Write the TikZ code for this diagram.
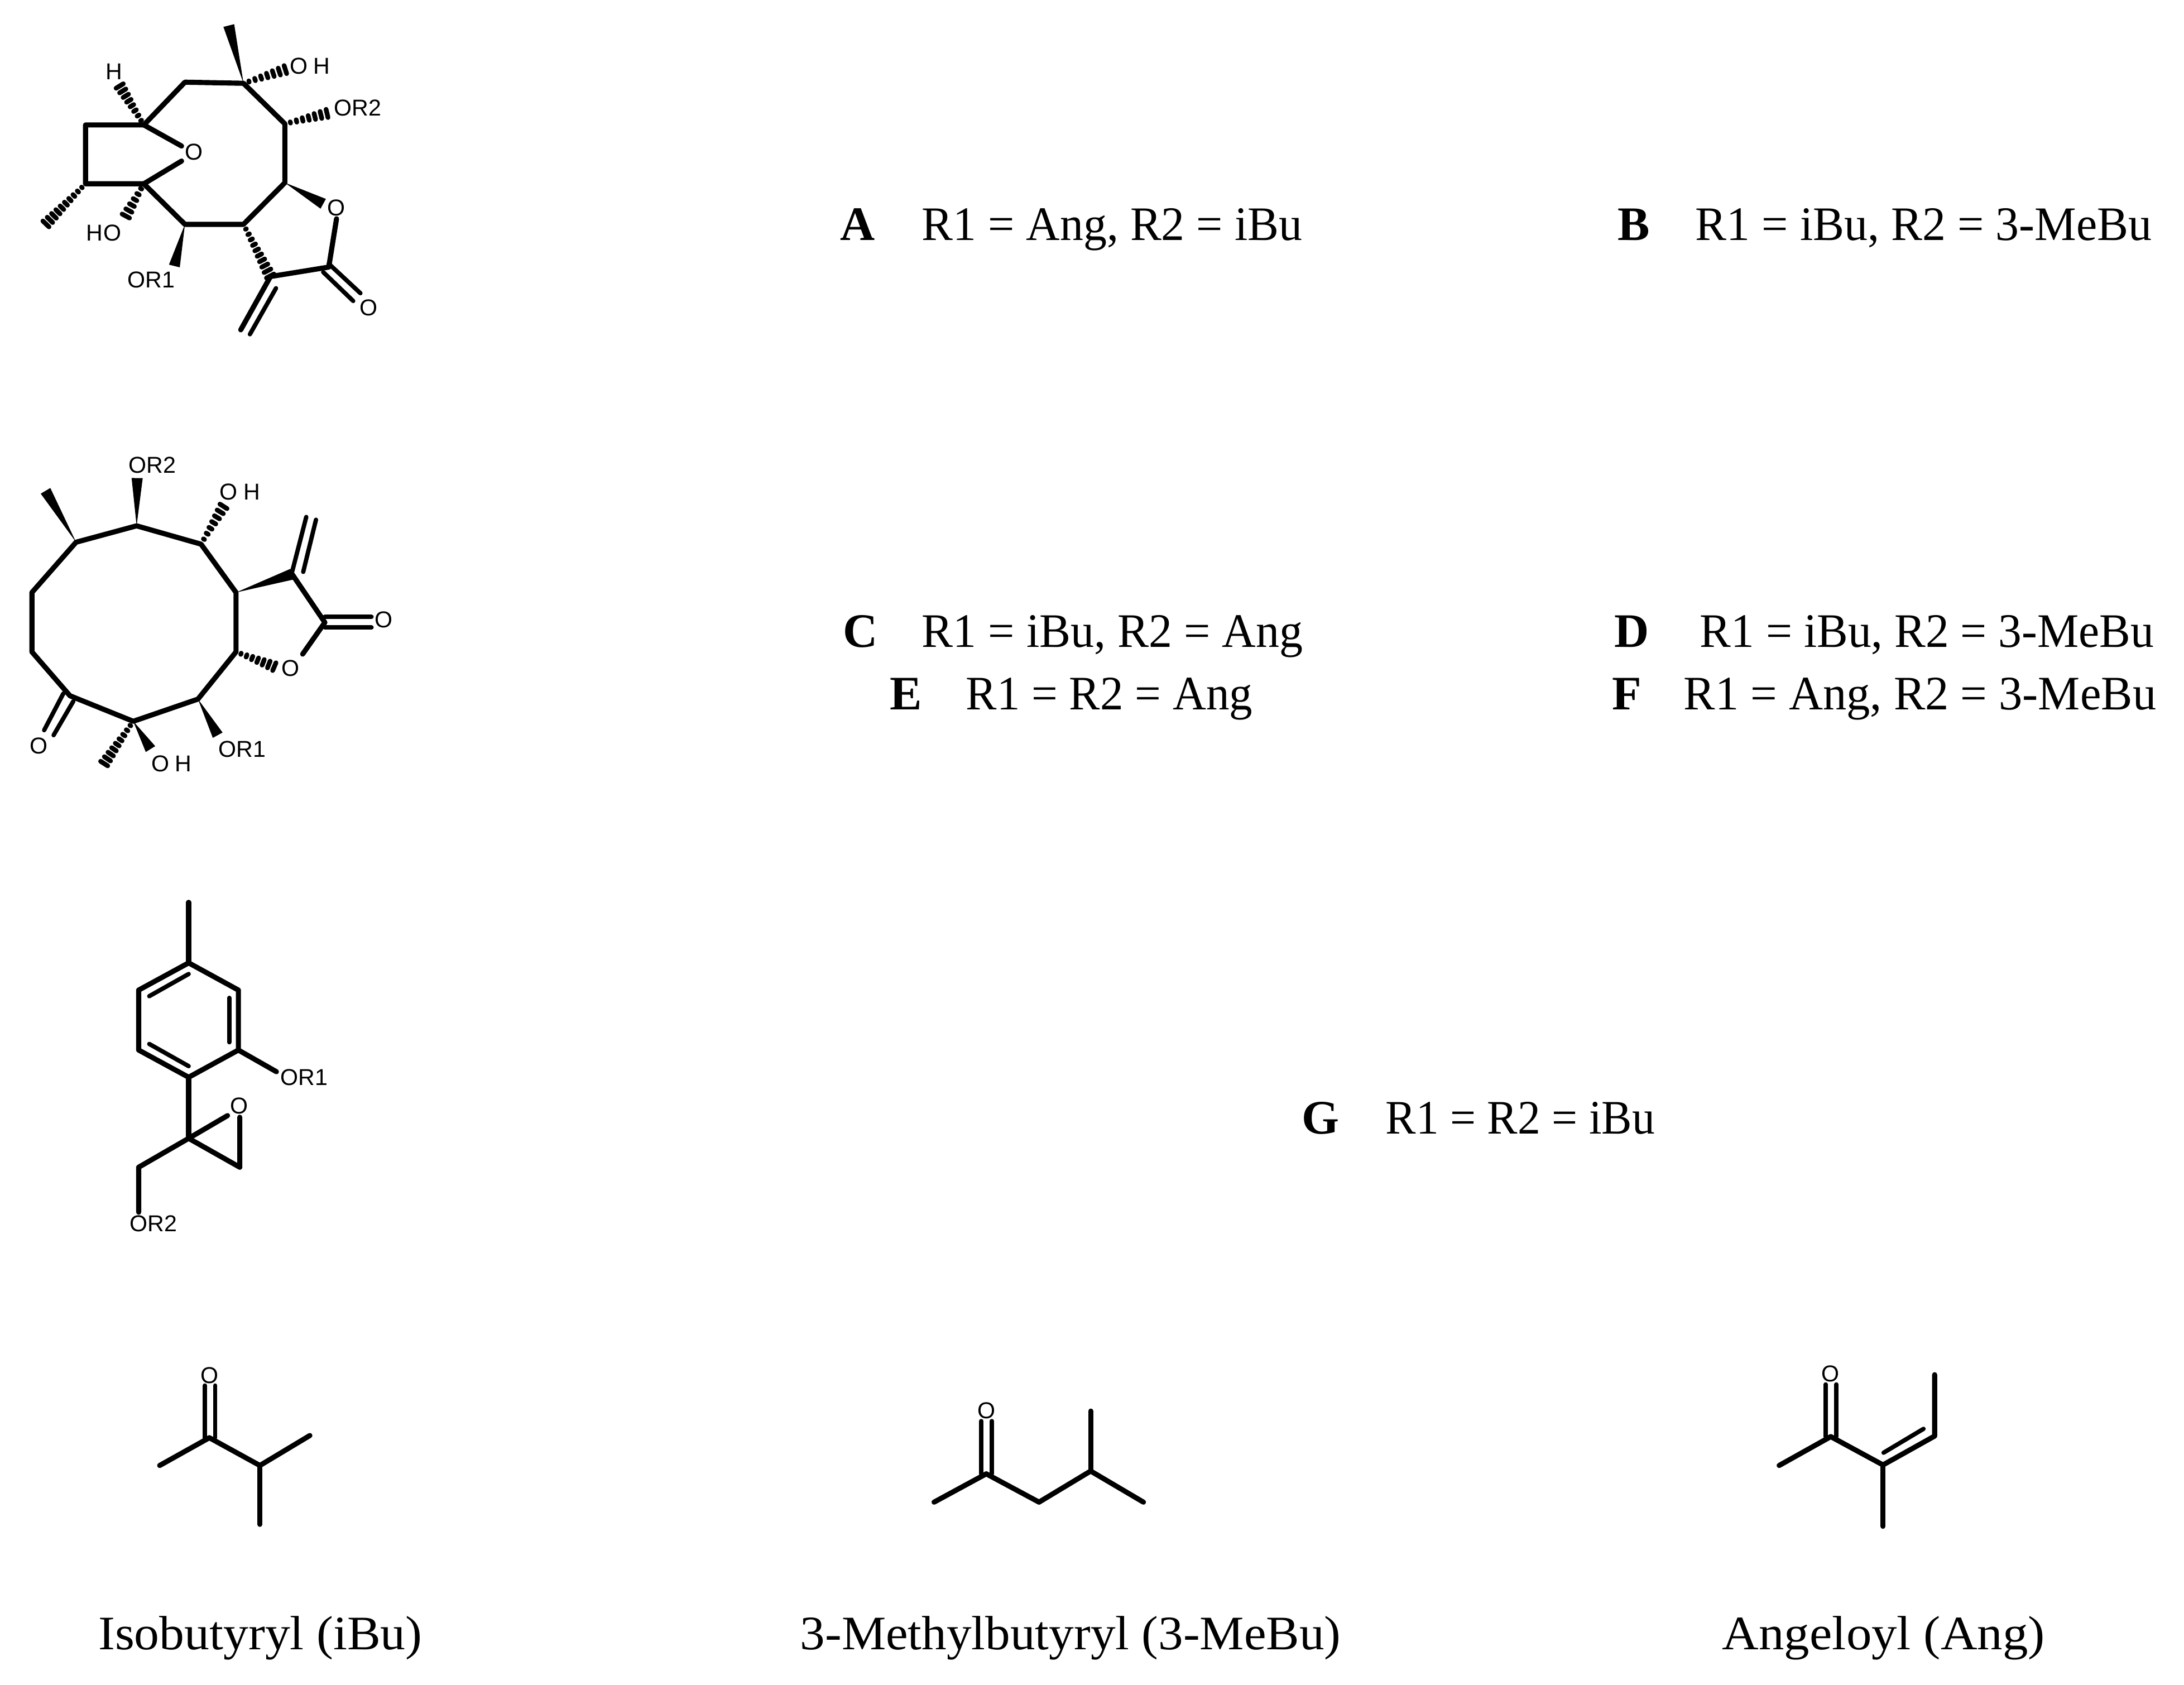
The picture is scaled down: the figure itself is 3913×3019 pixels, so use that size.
\documentclass[tikz,border=0pt]{standalone}
\usepackage{fontspec}
\usepackage{graphicx}
\usetikzlibrary{calc}
\setmainfont{Liberation Serif}
\newfontfamily\labelfont{Liberation Sans}
\newcommand\fitw[2]{\resizebox{#1}{\height}{#2}}
\newcommand\wedgebond[2]{\fill[black] (#1) -- ($(#2)!0.1cm!90:(#1)$) -- ($(#2)!0.1cm!-90:(#1)$) -- cycle;}
\newcommand\hashbond[3]{%
  \foreach \i in {1,...,#3}{%
    \pgfmathsetmacro\hasht{(\i-0.1)/#3}%
    \pgfmathsetmacro\hashw{0.075*\hasht+0.002}%
    \coordinate (hp) at ($(#1)!\hasht!(#2)$);
    \draw[hashline] ($(hp)!\hashw cm!90:(#2)$) -- ($(hp)!\hashw cm!-90:(#2)$);
  }}
\tikzset{
  bond/.style={line width=2.6pt,line cap=round,line join=round,black},
  thinbond/.style={line width=2.2pt,line cap=round,line join=round,black},
  hashline/.style={line width=2.4pt,line cap=round,black},
  atomlabel/.style={font=\labelfont\fontsize{11.7pt}{12pt}\selectfont,inner sep=0pt,black},
  capt/.style={font=\fontsize{24.5pt}{26pt}\selectfont,inner sep=0pt,anchor=base west,black},
  lett/.style={font=\fontsize{24.5pt}{26pt}\selectfont\bfseries,inner sep=0pt,anchor=base west,black}
}
\begin{document}
\begin{tikzpicture}[x=0.01cm,y=-0.01cm]
\useasboundingbox (0,0) rectangle (3913,3019);
%% ---------- structure 1
\begin{scope}[scale=.995]
\coordinate (a) at (438.5,150); \coordinate (b) at (333,148); \coordinate (c) at (259,225);
\coordinate (d) at (154,225); \coordinate (e) at (154,331); \coordinate (f) at (259,331);
\coordinate (g) at (333,404); \coordinate (h) at (438.5,404); \coordinate (i) at (513,329);
\coordinate (j) at (513,223); \coordinate (k) at (592,481); \coordinate (l) at (487,498);
\coordinate (oc) at (327,263); \coordinate (of) at (327,290); \coordinate (ok) at (606,394);
\coordinate (ame) at (412,46); \coordinate (aoh) at (515,125); \coordinate (jor) at (590,204);
\coordinate (ch) at (215,154); \coordinate (eme) at (82,404); \coordinate (foh) at (226,390);
\coordinate (gor) at (314,479); \coordinate (io) at (582,367);
\coordinate (l1) at (433.5,594); \coordinate (l2a) at (497,519); \coordinate (l2b) at (450,602);
\coordinate (k1a) at (592,475); \coordinate (k1b) at (649,528); \coordinate (k2a) at (582,490); \coordinate (k2b) at (636,542);
\draw[bond] (f) -- (g) -- (h) -- (i) -- (j) -- (a) -- (b) -- (c) -- (d) -- (e) -- (f);
\draw[bond] (c) -- (oc); \draw[bond] (f) -- (of);
\draw[bond] (ok) -- (k) -- (l);
\draw[bond] (l) -- (l1); \draw[thinbond] (l2a) -- (l2b);
\draw[thinbond] (k1a) -- (k1b); \draw[thinbond] (k2a) -- (k2b);
\wedgebond{a}{ame} \wedgebond{g}{gor} \wedgebond{i}{io}
\hashbond{a}{aoh}{7} \hashbond{j}{jor}{7} \hashbond{c}{ch}{8} \hashbond{e}{eme}{10}
\hashbond{f}{foh}{6} \hashbond{h}{l}{10}
\node[atomlabel] (n1o) at (349,274) {O};
\node[atomlabel] (n1oh) at (558,119) {O\kern3pt H};
\node[atomlabel] (n1or2) at (644,194) {OR2};
\node[atomlabel] (n1h) at (205,129) {H};
\node[atomlabel] (n1ho) at (187,419) {H\kern.6pt O};
\node[atomlabel] (n1or1) at (272,504) {OR1};
\node[atomlabel] (n1ol) at (606,374) {O};
\node[atomlabel] (n1oc) at (664,554) {O};
\end{scope}
%% ---------- structure 2
\begin{scope}[scale=.995,shift={(0,3.9)}]
\coordinate (A) at (137,972.5); \coordinate (B) at (246,943); \coordinate (C) at (362,976);
\coordinate (D) at (425,1063); \coordinate (E) at (425,1170); \coordinate (F) at (356.5,1255);
\coordinate (G) at (240,1295); \coordinate (H) at (126,1249); \coordinate (I) at (57.5,1170);
\coordinate (J) at (57.5,1063); \coordinate (L) at (526,1030); \coordinate (M) at (585,1117);
\coordinate (Bt) at (247,857); \coordinate (At) at (82,880); \coordinate (Ct) at (403,907);
\coordinate (L1a) at (526,1026); \coordinate (L1b) at (551.5,927); \coordinate (L2a) at (546,1026); \coordinate (L2b) at (569,932);
\coordinate (M1a) at (585,1107); \coordinate (M1b) at (669,1107); \coordinate (M2a) at (585,1126); \coordinate (M2b) at (669,1126);
\coordinate (MO) at (545,1174); \coordinate (Et) at (495,1197); \coordinate (Ft) at (392,1320);
\coordinate (Gw) at (271,1345); \coordinate (Gh) at (187,1372);
\coordinate (H1a) at (114,1245); \coordinate (H1b) at (79.5,1311); \coordinate (H2a) at (132,1259); \coordinate (H2b) at (96.5,1320);
\draw[bond] (C) -- (D) -- (E) -- (F) -- (G) -- (H) -- (I) -- (J) -- (A) -- (B) -- (C);
\draw[bond] (L) -- (M) -- (MO);
\draw[thinbond] (L1a) -- (L1b); \draw[thinbond] (L2a) -- (L2b);
\draw[thinbond] (M1a) -- (M1b); \draw[thinbond] (M2a) -- (M2b);
\draw[thinbond] (H1a) -- (H1b); \draw[thinbond] (H2a) -- (H2b);
\wedgebond{A}{At} \wedgebond{B}{Bt} \wedgebond{D}{L} \wedgebond{F}{Ft} \wedgebond{G}{Gw}
\hashbond{C}{Ct}{7} \hashbond{E}{Et}{7} \hashbond{G}{Gh}{9}
\node[atomlabel] (n2or2) at (274,834) {OR2};
\node[atomlabel] (n2oh) at (432,882) {O\kern3pt H};
\node[atomlabel] (n2co) at (691,1112) {O};
\node[atomlabel] (n2lo) at (523,1199) {O};
\node[atomlabel] (n2or1) at (436,1345) {OR1};
\node[atomlabel] (n2oh2) at (309,1371) {O\kern3pt H};
\node[atomlabel] (n2ko) at (70,1339) {O};
\end{scope}
%% ---------- structure 3
\begin{scope}[scale=.995,shift={(.75,7.9)}]
\coordinate (me) at (339,1617); \coordinate (p1) at (339,1726); \coordinate (p2) at (428.5,1775);
\coordinate (p3) at (428.5,1883); \coordinate (p4) at (339,1932); \coordinate (p5) at (249,1883);
\coordinate (p6) at (249,1775);
\coordinate (in1a) at (268,1786); \coordinate (in1b) at (339,1746);
\coordinate (in2a) at (412,1789); \coordinate (in2b) at (412,1869);
\coordinate (in3a) at (268,1872); \coordinate (in3b) at (339,1912);
\coordinate (orb) at (497,1922); \coordinate (q) at (339,2042); \coordinate (qo) at (409,2001);
\coordinate (ro) at (431,2004); \coordinate (r) at (431,2094); \coordinate (s) at (249,2094); \coordinate (sb) at (249,2175);
\draw[bond] (p1) -- (p2) -- (p3) -- (p4) -- (p5) -- (p6) -- cycle;
\draw[bond] (me) -- (p1);
\draw[thinbond] (in1a) -- (in1b); \draw[thinbond] (in2a) -- (in2b); \draw[thinbond] (in3a) -- (in3b);
\draw[bond] (p3) -- (orb); \draw[bond] (p4) -- (q); \draw[bond] (q) -- (qo);
\draw[bond] (ro) -- (r) -- (q) -- (s) -- (sb);
\node[atomlabel] (n3or1) at (547,1932) {OR1};
\node[atomlabel] (n3o) at (430,1983) {O};
\node[atomlabel] (n3or2) at (275.5,2195) {OR2};
\end{scope}
%% ---------- isobutyryl
\begin{scope}[scale=.995,shift={(1,12)}]
\coordinate (ib1) at (286.5,2627); \coordinate (ib2) at (376,2577); \coordinate (ib3) at (467,2627);
\coordinate (ib4) at (557,2573); \coordinate (ib5) at (467,2733);
\coordinate (ibda) at (368,2577); \coordinate (ibdb) at (368,2483); \coordinate (ibea) at (386.5,2577); \coordinate (ibeb) at (386.5,2483);
\draw[bond] (ib1) -- (ib2) -- (ib3) -- (ib4); \draw[bond] (ib3) -- (ib5);
\draw[thinbond] (ibda) -- (ibdb); \draw[thinbond] (ibea) -- (ibeb);
\node[atomlabel] (nibo) at (376,2465) {O};
\end{scope}
%% ---------- 3-methylbutyryl
\begin{scope}[scale=.995,shift={(8,12)}]
\coordinate (mb1) at (1674,2693); \coordinate (mb2) at (1768,2642); \coordinate (mb3) at (1863,2693);
\coordinate (mb4) at (1956,2637); \coordinate (mb5) at (1956,2529); \coordinate (mb6) at (2051,2693);
\coordinate (mbda) at (1759,2642); \coordinate (mbdb) at (1759,2547); \coordinate (mbea) at (1778,2642); \coordinate (mbeb) at (1778,2547);
\draw[bond] (mb1) -- (mb2) -- (mb3) -- (mb4) -- (mb6); \draw[bond] (mb4) -- (mb5);
\draw[thinbond] (mbda) -- (mbdb); \draw[thinbond] (mbea) -- (mbeb);
\node[atomlabel] (nmbo) at (1768,2528) {O};
\end{scope}
%% ---------- angeloyl
\begin{scope}[scale=.995,shift={(14.75,12)}]
\coordinate (an1) at (3189,2627); \coordinate (an2) at (3282,2575); \coordinate (an3) at (3376,2626);
\coordinate (an4) at (3376,2736.5); \coordinate (an5) at (3469,2574); \coordinate (an6) at (3469,2463.5);
\coordinate (anda) at (3273,2575); \coordinate (andb) at (3273,2481); \coordinate (anea) at (3292,2575); \coordinate (aneb) at (3292,2481);
\coordinate (anfa) at (3377,2604); \coordinate (anfb) at (3449,2561);
\draw[bond] (an1) -- (an2) -- (an3) -- (an5) -- (an6); \draw[bond] (an3) -- (an4);
\draw[thinbond] (anda) -- (andb); \draw[thinbond] (anea) -- (aneb); \draw[thinbond] (anfa) -- (anfb);
\node[atomlabel] (nano) at (3281,2461.5) {O};
\end{scope}
%% ---------- compound list
\node[lett] (la) at (1505,431) {A};
\node[capt] (ta) at (1651,431) {\fitw{6.81cm}{R1 = Ang, R2 = iBu}};
\node[lett] (lb) at (2898,431) {B};
\node[capt] (tb) at (3037,431) {\fitw{8.17cm}{R1 = iBu, R2 = 3-MeBu}};
\node[lett] (lc) at (1510,1159) {C};
\node[capt] (tc) at (1651,1159) {\fitw{6.82cm}{R1 = iBu, R2 = Ang}};
\node[lett] (ld) at (2892,1159) {D};
\node[capt] (td) at (3045,1159) {\fitw{8.13cm}{R1 = iBu, R2 = 3-MeBu}};
\node[lett] (le) at (1594,1271) {E};
\node[capt] (te) at (1730,1271) {\fitw{5.13cm}{R1 = R2 = Ang}};
\node[lett] (lf) at (2888,1271) {F};
\node[capt] (tf) at (3016,1271) {\fitw{8.46cm}{R1 = Ang, R2 = 3-MeBu}};
\node[lett] (lg) at (2332,2031) {G};
\node[capt] (tg) at (2482,2031) {\fitw{4.82cm}{R1 = R2 = iBu}};
%% ---------- captions
\node[capt] (cib) at (175.5,2955) {\fitw{5.80cm}{Isobutyryl (iBu)}};
\node[capt] (cmb) at (1433,2955) {\fitw{9.68cm}{3-Methylbutyryl (3-MeBu)}};
\node[capt] (can) at (3085,2955) {\fitw{5.78cm}{Angeloyl (Ang)}};
\end{tikzpicture}
\end{document}
